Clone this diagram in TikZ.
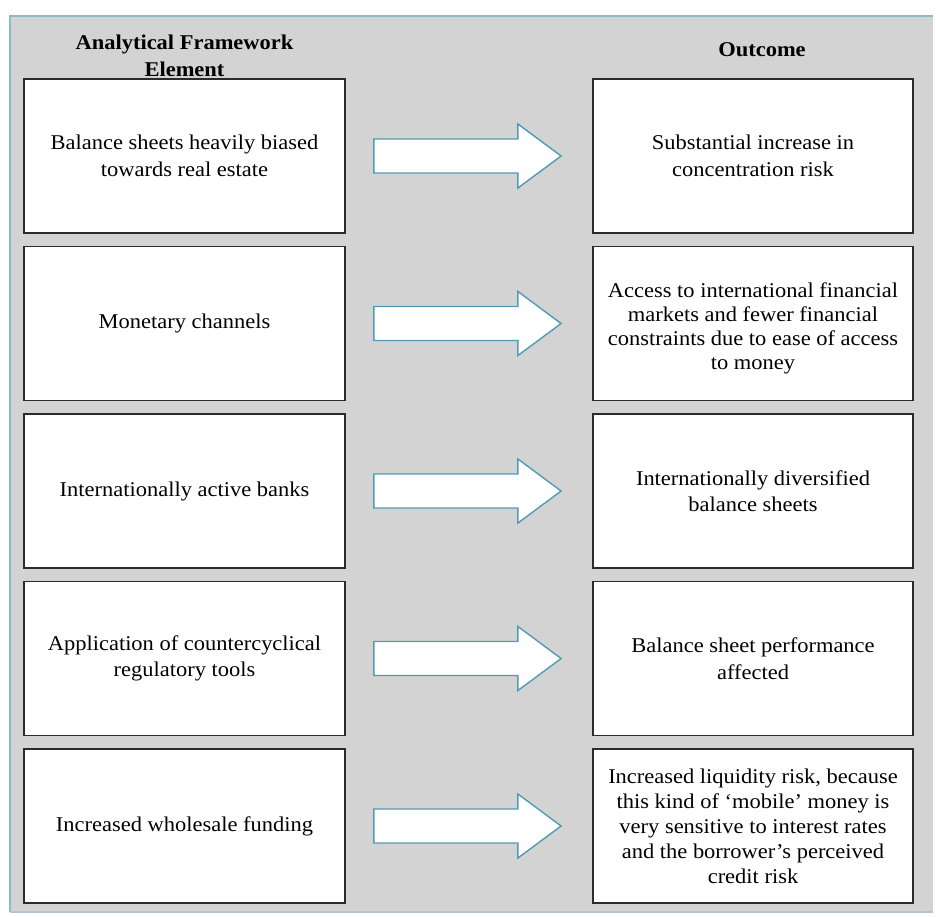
\documentclass[tikz,border=0pt]{standalone}
\usepackage{fontspec}
\setmainfont{Liberation Serif}[FakeStretch=1.07]
\usetikzlibrary{calc}
\definecolor{panelgray}{HTML}{D3D3D3}
\definecolor{panelblue}{HTML}{8DB8CC}
\definecolor{boxline}{HTML}{2B2B2B}
\definecolor{arrowline}{HTML}{4F9CB4}
\tikzset{
  fbox/.style={draw=boxline, line width=1.8pt, fill=white, minimum height=154pt,
    inner sep=0pt, align=center, font=\fontsize{21}{26.5}\selectfont},
  lbox/.style={fbox, minimum width=321pt},
  rbox/.style={fbox, minimum width=320pt},
  boxtext/.style={inner sep=0pt, align=center, font=\fontsize{21}{24}\selectfont},
  hdr/.style={align=center, font=\fontsize{21}{27.5}\selectfont\bfseries, inner sep=0pt},
  barrow/.style={draw=arrowline, line width=1.4pt, fill=white, line join=miter},
}
\newcommand{\blockarrow}[2]{%
  \draw[barrow] ($(#1.east)+(28,-17)$) -- ($(#1.east)+(172,-17)$) -- ($(#1.east)+(172,-32)$)
    -- ($(#2.west)+(-31,0)$) -- ($(#1.east)+(172,32)$) -- ($(#1.east)+(172,17)$)
    -- ($(#1.east)+(28,17)$) -- cycle;}
\begin{document}
\begin{tikzpicture}[x=1pt,y=-1pt]
\useasboundingbox (0,0) rectangle (936,916);
\fill[white] (0,0) rectangle (936,916);
\fill[panelgray] (10,16) rectangle (933,912);
\draw[panelblue, line width=2pt] (10,912) -- (10,16) -- (933,16);
\draw[panelblue!50!panelgray, line width=2pt] (10,912) -- (933,912);

\node[hdr] (h1) at (184.5,56) {Analytical Framework\\Element};
\node[hdr] (h2) at (762,50) {Outcome};

\node[lbox] (l1) at (184.5,156) {Balance sheets heavily biased\\towards real estate};
\node[lbox] (l2) at (184.5,323.5) {Monetary channels};
\node[lbox] (l3) at (184.5,491) {Internationally active banks};
\node[lbox] (l4) at (184.5,658.5) {Application of countercyclical\\regulatory tools};
\node[lbox] (l5) at (184.5,826) {Increased wholesale funding};

\node[rbox] (r1) at (753,156) {Substantial increase in\\concentration risk};
\node[rbox] (r2) at (753,323.5) {};
\node[boxtext] (r2t) at ($(r2.center)+(0,5)$) {Access to international financial\\markets and fewer financial\\constraints due to ease of access\\to money};
\node[rbox] (r3) at (753,491) {Internationally diversified\\balance sheets};
\node[rbox] (r4) at (753,658.5) {Balance sheet performance\\affected};
\node[rbox, font=\fontsize{21}{25}\selectfont] (r5) at (753,826) {Increased liquidity risk, because\\this kind of ‘mobile’ money is\\very sensitive to interest rates\\and the borrower’s perceived\\credit risk};

\blockarrow{l1}{r1}
\blockarrow{l2}{r2}
\blockarrow{l3}{r3}
\blockarrow{l4}{r4}
\blockarrow{l5}{r5}
\end{tikzpicture}
\end{document}
